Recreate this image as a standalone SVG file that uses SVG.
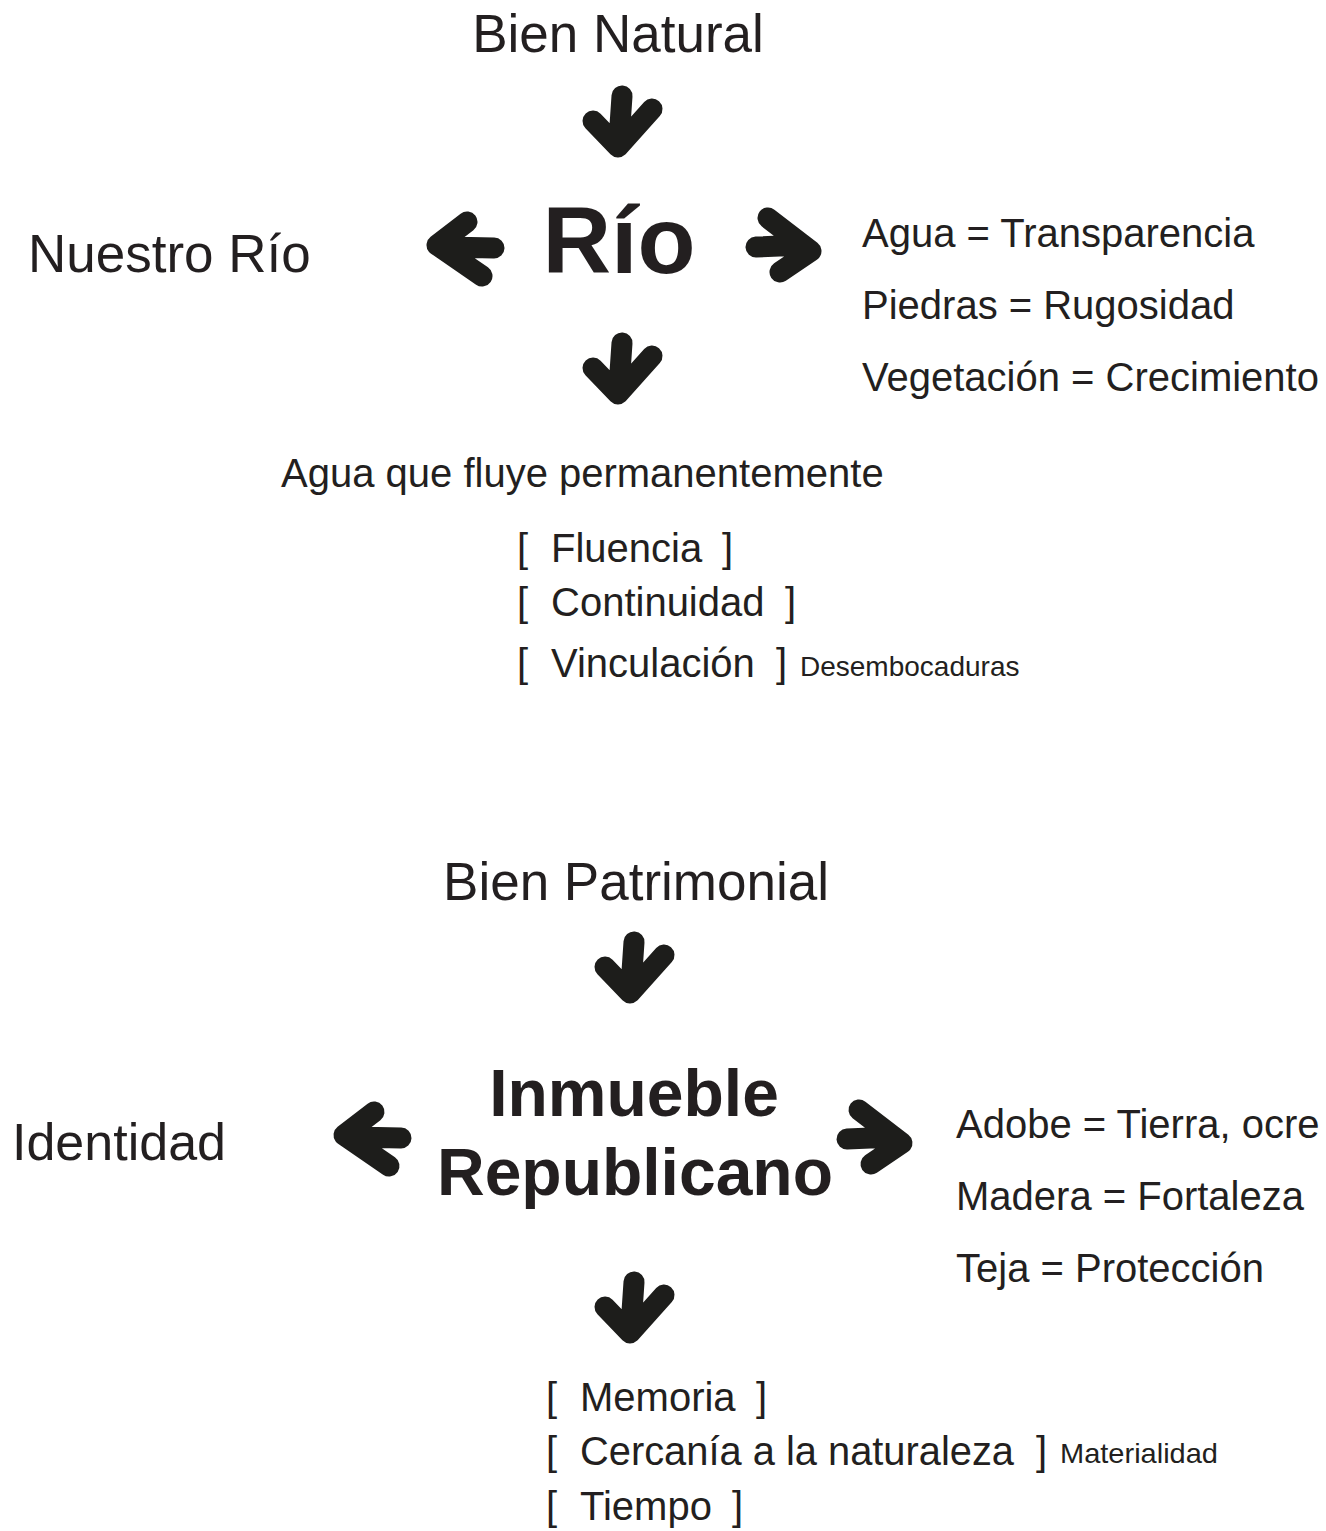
<svg xmlns="http://www.w3.org/2000/svg" width="1326" height="1531" viewBox="0 0 1326 1531">
<style>
text{font-family:"Liberation Sans",Arial,sans-serif;fill:#231f20}
.t53{font-size:53px}
.t40{font-size:40px}
.sm{font-size:28px}
.b{font-weight:bold}
.arr{fill:none;stroke:#1d1d1b;stroke-width:21;stroke-linecap:round;stroke-linejoin:round}
</style>
<defs>
<g id="down"><path class="arr" d="M593,121 L618,147 L652,109 M622,96 L619,140"/></g>
<g id="left"><path class="arr" d="M467,222 L437,245 L482,276 M494,248 L447,247"/></g>
<g id="right"><path class="arr" d="M768,218 L811,251 L780,272 M756,247 L803,245"/></g>
</defs>
<rect width="1326" height="1531" fill="#fff"/>
<g id="connectors">
<use href="#down"/>
<use href="#down" transform="translate(0,247)"/>
<use href="#left"/>
<use href="#right"/>
<use href="#down" transform="translate(12,846)"/>
<use href="#down" transform="translate(12,1186)"/>
<use href="#left" transform="translate(-93,890)"/>
<use href="#right" transform="translate(91,892)"/>
</g>
<g id="bien-natural"><text class="t53" x="618" y="52" text-anchor="middle">Bien Natural</text></g>
<g id="rio"><text class="b" font-size="95" x="619" y="273" text-anchor="middle">Río</text></g>
<g id="nuestro-rio"><text class="t53" x="28" y="272" font-size="52">Nuestro Río</text></g>
<g id="rio-attributes">
<text class="t40" x="862" y="247">Agua = Transparencia</text>
<text class="t40" x="862" y="319">Piedras = Rugosidad</text>
<text class="t40" x="862" y="391">Vegetación = Crecimiento</text>
</g>
<g id="agua-fluye"><text class="t40" x="281" y="487">Agua que fluye permanentemente</text></g>
<g id="rio-list">
<text class="t40" x="517" y="562">[</text><text class="t40" x="551" y="562">Fluencia</text><text class="t40" x="722" y="562">]</text>
<text class="t40" x="517" y="616">[</text><text class="t40" x="551" y="616">Continuidad</text><text class="t40" x="785" y="616">]</text>
<text class="t40" x="517" y="677">[</text><text class="t40" x="551" y="677">Vinculación</text><text class="t40" x="776" y="677">]</text>
<text class="sm" x="800" y="676">Desembocaduras</text>
</g>
<g id="bien-patrimonial"><text class="t53" x="636" y="900" text-anchor="middle">Bien Patrimonial</text></g>
<g id="inmueble">
<text class="b" font-size="66" x="634" y="1116" text-anchor="middle">Inmueble</text>
<text class="b" font-size="66" x="635" y="1195" text-anchor="middle">Republicano</text>
</g>
<g id="identidad"><text x="12" y="1160" font-size="52">Identidad</text></g>
<g id="inmueble-attributes">
<text class="t40" x="956" y="1138">Adobe = Tierra, ocre</text>
<text class="t40" x="956" y="1210">Madera = Fortaleza</text>
<text class="t40" x="956" y="1282">Teja = Protección</text>
</g>
<g id="inmueble-list">
<text class="t40" x="546" y="1411">[</text><text class="t40" x="580" y="1411">Memoria</text><text class="t40" x="756" y="1411">]</text>
<text class="t40" x="546" y="1465">[</text><text class="t40" x="580" y="1465" textLength="434" lengthAdjust="spacingAndGlyphs">Cercanía a la naturaleza</text><text class="t40" x="1036" y="1465">]</text>
<text class="sm" x="1060" y="1463" textLength="158" lengthAdjust="spacingAndGlyphs">Materialidad</text>
<text class="t40" x="546" y="1520">[</text><text class="t40" x="580" y="1520">Tiempo</text><text class="t40" x="732" y="1520">]</text>
</g>
</svg>
